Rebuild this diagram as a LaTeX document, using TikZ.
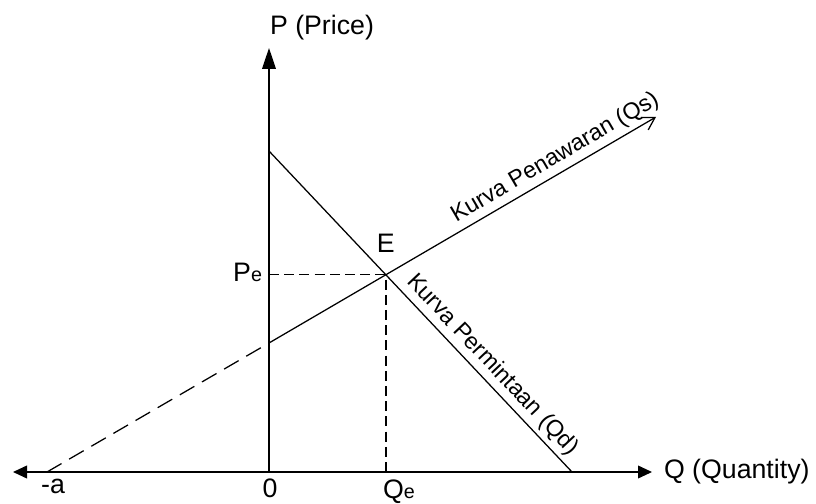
\documentclass[tikz,border=0pt]{standalone}
\usepackage{fontspec}
\setmainfont{Liberation Sans}
\usetikzlibrary{arrows.meta,positioning}
\begin{document}
\begin{tikzpicture}[x=0.025cm, y=-0.025cm, line width=0.9pt,
		>={Triangle[length=0.35cm, width=0.32cm]},
		guide/.style={dash pattern=on 0.25cm off 0.13cm},
		ext/.style={dash pattern=on 0.42cm off 0.22cm},
		lbl/.style={font=\fontsize{19}{23}\selectfont, inner sep=1pt},
		curvelbl/.style={font=\fontsize{16.5}{19}\selectfont, sloped, above, inner sep=3pt}]
	\useasboundingbox (0,0) rectangle (816,504);
	
	% 关键点
	\coordinate (O) at (269,472);
	\coordinate (Xl) at (13,472);
	\coordinate (Xr) at (652,472);
	\coordinate (Yt) at (269,48);
	\coordinate (Dtop) at (269,151);
	\coordinate (Dbot) at (572,472);
	\coordinate (Sa) at (47,472);
	\coordinate (S0) at (269,343);
	\coordinate (Stip) at (656,117);
	\coordinate (E) at (intersection of Dtop--Dbot and S0--Stip);
	
	% 坐标轴
	\draw[<->] (Xl) -- (Xr);
	\draw[-{Triangle[length=0.52cm, width=0.34cm]}] (O) -- (Yt);
	\node[lbl, anchor=base west] (Plab) at (268,35) {P (Price)};
	\node[lbl, anchor=west] (Qlab) at (662,472) {Q (Quantity)};
	\node[lbl, anchor=north] (zero) at (270,477) {0};
	\node[lbl, anchor=north] (mina) at (53,477) {-a};
	
	% 需求与供给
	\draw (Dtop) -- node[curvelbl, pos=0.7] {Kurva Permintaan (Qd)} (Dbot);
	\draw[ext] (Sa) -- (S0);
	\draw[-{Straight Barb[length=0.3cm, width=0.36cm]}] (S0) -- node[curvelbl, pos=0.76] {Kurva Penawaran (Qs)} (Stip);
	
	% 均衡点与辅助线
	\draw[guide] (O |- E) -- (E) -- (E |- O);
	\node[lbl, above=0.5cm of E] (Elab) {E};
	\node[lbl, anchor=east] (Pe) at (264,272) {P{\fontsize{14}{14}\selectfont e}};
	\node[lbl, anchor=north west] (Qe) at (381,478) {Q{\fontsize{14}{14}\selectfont e}};
\end{tikzpicture}
\end{document}
